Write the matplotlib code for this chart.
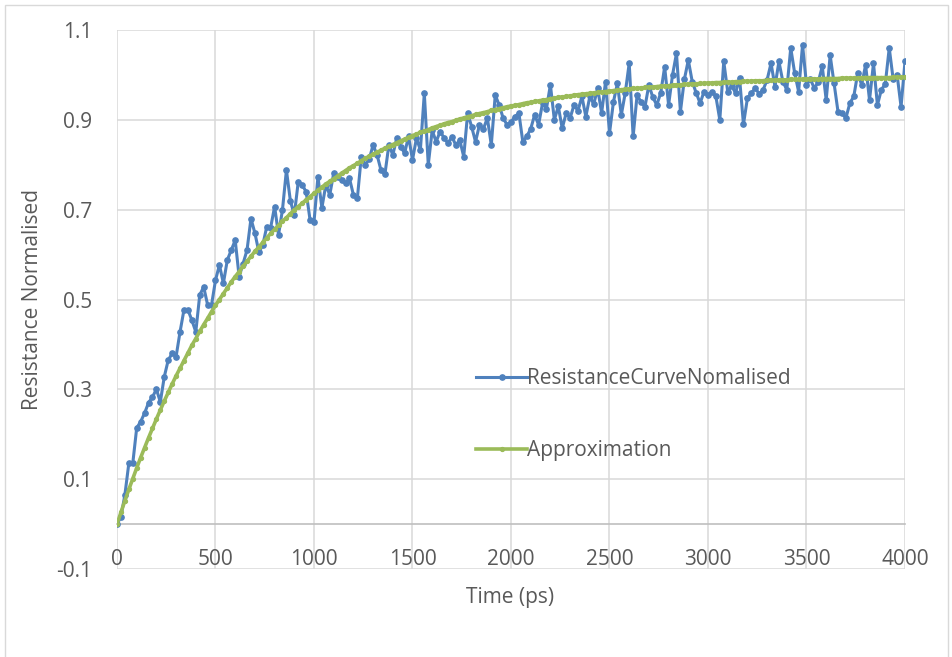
import matplotlib
matplotlib.use("Agg")
import matplotlib.pyplot as plt
from matplotlib.patches import Rectangle

time_ps = list(range(0, 4001, 20))

resistance_curve = [
    0.000, 0.016, 0.065, 0.135, 0.135, 0.214, 0.228, 0.247, 0.270, 0.283,
    0.300, 0.272, 0.328, 0.365, 0.380, 0.373, 0.428, 0.477, 0.477, 0.454,
    0.428, 0.510, 0.528, 0.488, 0.488, 0.543, 0.577, 0.536, 0.588, 0.610,
    0.632, 0.551, 0.580, 0.610, 0.680, 0.648, 0.606, 0.621, 0.662, 0.660,
    0.707, 0.644, 0.700, 0.788, 0.720, 0.688, 0.762, 0.755, 0.740, 0.677,
    0.673, 0.773, 0.704, 0.755, 0.733, 0.781, 0.773, 0.765, 0.759, 0.770,
    0.733, 0.725, 0.818, 0.800, 0.812, 0.844, 0.822, 0.788, 0.779, 0.844,
    0.822, 0.859, 0.840, 0.826, 0.863, 0.811, 0.859, 0.833, 0.959, 0.800,
    0.877, 0.851, 0.874, 0.860, 0.848, 0.862, 0.844, 0.855, 0.818, 0.915,
    0.885, 0.851, 0.889, 0.880, 0.904, 0.844, 0.955, 0.933, 0.904, 0.889,
    0.895, 0.907, 0.915, 0.851, 0.863, 0.880, 0.911, 0.889, 0.937, 0.925,
    0.978, 0.900, 0.930, 0.881, 0.915, 0.904, 0.933, 0.920, 0.952, 0.907,
    0.952, 0.935, 0.970, 0.915, 0.985, 0.870, 0.940, 0.981, 0.911, 0.960,
    1.026, 0.863, 0.955, 0.940, 0.929, 0.978, 0.950, 0.933, 0.960, 1.018,
    0.933, 1.000, 1.048, 0.918, 0.990, 1.033, 0.985, 0.960, 0.937, 0.963,
    0.955, 0.963, 0.952, 0.900, 1.030, 0.963, 0.975, 0.960, 0.994, 0.890,
    0.948, 0.960, 0.970, 0.958, 0.967, 0.989, 1.026, 0.974, 1.030, 0.985,
    0.967, 1.060, 1.004, 0.963, 1.067, 0.978, 0.990, 0.970, 0.985, 1.019,
    0.944, 1.044, 0.981, 0.918, 0.915, 0.904, 0.937, 0.952, 1.004, 0.978,
    1.022, 0.944, 1.026, 0.933, 0.967, 0.980, 1.060, 0.990, 1.000, 0.929,
    1.030,
]

approximation = [
    0.000, 0.026, 0.052, 0.077, 0.101, 0.125, 0.148, 0.170, 0.192, 0.213,
    0.234, 0.254, 0.274, 0.293, 0.312, 0.330, 0.347, 0.364, 0.381, 0.398,
    0.413, 0.429, 0.444, 0.458, 0.473, 0.487, 0.500, 0.513, 0.526, 0.539,
    0.551, 0.562, 0.574, 0.585, 0.596, 0.607, 0.617, 0.627, 0.637, 0.647,
    0.656, 0.665, 0.674, 0.682, 0.691, 0.699, 0.707, 0.714, 0.722, 0.729,
    0.736, 0.743, 0.750, 0.757, 0.763, 0.769, 0.775, 0.781, 0.787, 0.793,
    0.798, 0.803, 0.809, 0.814, 0.819, 0.823, 0.828, 0.832, 0.837, 0.841,
    0.845, 0.849, 0.853, 0.857, 0.861, 0.865, 0.868, 0.872, 0.875, 0.878,
    0.882, 0.885, 0.888, 0.891, 0.894, 0.896, 0.899, 0.902, 0.904, 0.907,
    0.909, 0.912, 0.914, 0.916, 0.918, 0.921, 0.923, 0.925, 0.927, 0.929,
    0.931, 0.932, 0.934, 0.936, 0.938, 0.939, 0.941, 0.942, 0.944, 0.945,
    0.947, 0.948, 0.950, 0.951, 0.952, 0.953, 0.955, 0.956, 0.957, 0.958,
    0.959, 0.960, 0.961, 0.962, 0.963, 0.964, 0.965, 0.966, 0.967, 0.968,
    0.969, 0.970, 0.970, 0.971, 0.972, 0.973, 0.973, 0.974, 0.975, 0.975,
    0.976, 0.977, 0.977, 0.978, 0.979, 0.979, 0.980, 0.980, 0.981, 0.981,
    0.982, 0.982, 0.983, 0.983, 0.984, 0.984, 0.984, 0.985, 0.985, 0.986,
    0.986, 0.986, 0.987, 0.987, 0.987, 0.988, 0.988, 0.988, 0.989, 0.989,
    0.989, 0.990, 0.990, 0.990, 0.990, 0.991, 0.991, 0.991, 0.991, 0.992,
    0.992, 0.992, 0.992, 0.992, 0.993, 0.993, 0.993, 0.993, 0.993, 0.994,
    0.994, 0.994, 0.994, 0.994, 0.994, 0.994, 0.994, 0.995, 0.995, 0.995,
    0.995,
]

x_ticks = [0, 500, 1000, 1500, 2000, 2500, 3000, 3500, 4000]
y_ticks = [-0.1, 0.1, 0.3, 0.5, 0.7, 0.9, 1.1]
y_tick_labels = ["-0.1", "0.1", "0.3", "0.5", "0.7", "0.9", "1.1"]

plt.rcParams['font.family'] = ['Open Sans', 'DejaVu Sans']
text_color = '#595959'
grid_color = '#d9d9d9'

W, H = 953, 657
fig = plt.figure(figsize=(W / 100, H / 100), dpi=100)
ax = fig.add_axes([117 / W, 1 - 569 / H, (905 - 117) / W, (569 - 30) / H])

ax.plot(time_ps, resistance_curve, color='#4f81bd', lw=2.2, marker='o',
        markersize=3.8, label='ResistanceCurveNomalised', zorder=3)
ax.plot(time_ps, approximation, color='#9bbb59', lw=2.6, marker='o',
        markersize=2.8, label='Approximation', zorder=4)

ax.set_xlim(0, 4000)
ax.set_ylim(-0.1, 1.1)
ax.set_xticks(x_ticks)
ax.set_yticks(y_ticks)
ax.set_yticklabels(y_tick_labels)
ax.grid(True, color=grid_color, lw=1.1)
ax.set_axisbelow(True)

for s in ['left', 'right', 'top']:
    ax.spines[s].set_visible(False)
ax.spines['bottom'].set_position(('data', 0))
ax.spines['bottom'].set_color('#bfbfbf')
ax.spines['bottom'].set_linewidth(1.2)
ax.spines['bottom'].set_zorder(2)

ax.tick_params(axis='x', length=0, pad=18, labelsize=15, labelcolor=text_color)
ax.tick_params(axis='y', length=0, pad=18, labelsize=15, labelcolor=text_color)

fig.text(510 / W, 1 - 598 / H, 'Time (ps)', ha='center', va='center',
         fontsize=15, color=text_color)
fig.text(33 / W, 1 - 300 / H, 'Resistance Normalised', ha='center', va='center',
         rotation=90, fontsize=15, color=text_color)

leg = ax.legend(loc='upper left', bbox_to_anchor=(476 / W, 1 - 368 / H),
                bbox_transform=fig.transFigure, frameon=False, fontsize=15,
                handlelength=2.45, handletextpad=0.0, labelspacing=2.45,
                borderpad=0, borderaxespad=0)
for t in leg.get_texts():
    t.set_color(text_color)

fig.patches.append(Rectangle((5 / W, -0.05), 943 / W, 1.05 - 5 / H,
                             transform=fig.transFigure, fill=False,
                             edgecolor=grid_color, lw=1.0))

fig.savefig('out.png', dpi=100)
